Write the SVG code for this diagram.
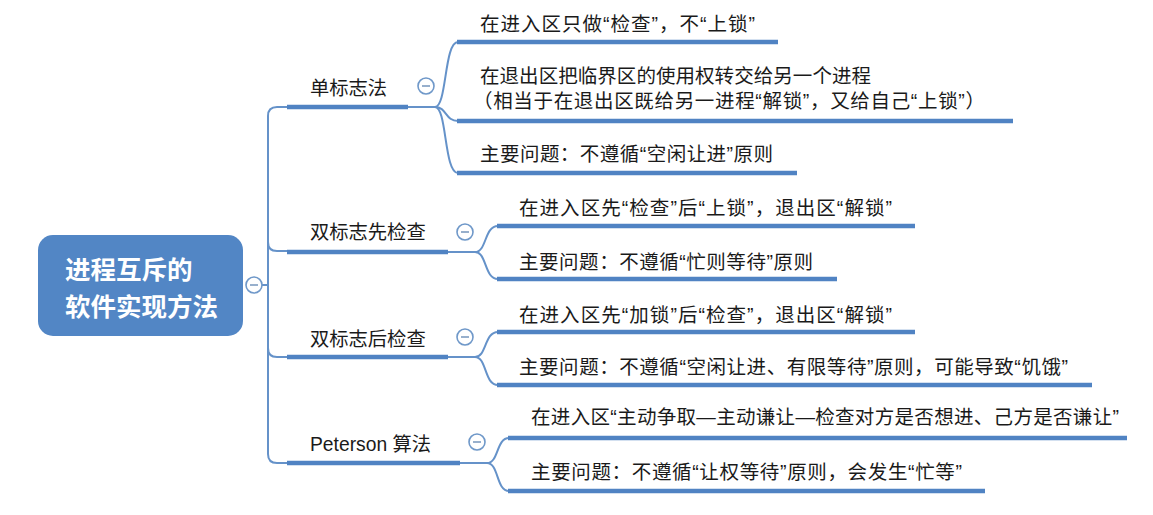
<svg xmlns="http://www.w3.org/2000/svg" width="1153" height="515" viewBox="0 0 1153 515">
<style>
.bg{fill:#ffffff}
.root{fill:#5286c5}
.rt{font-family:"Liberation Sans","Noto Sans CJK SC",sans-serif;font-size:25.5px;font-weight:bold;fill:#ffffff}
.bt{font-family:"Liberation Sans","Noto Sans CJK SC",sans-serif;font-size:19.3px;fill:#1a1a1a}
.ct{font-family:"Liberation Sans","Noto Sans CJK SC",sans-serif;font-size:19.5px;fill:#1a1a1a}
.ul{stroke:#5083c3;stroke-width:4.5;fill:none}
.ln{stroke:#6592c9;stroke-width:2;fill:none}
.tog circle{fill:#ffffff;stroke:#6f98c9;stroke-width:1.6}
.tog line{stroke:#7e9cc0;stroke-width:1.6}
</style>
<rect class="bg" x="0" y="0" width="1153" height="515"/>
<g id="connectors">
<path class="ln" d="M287,107 H277 Q268,107 268,116 V454 Q268,463 277,463 H287"/>
<path class="ln" d="M268,242 Q268,251 277,251 H287"/>
<path class="ln" d="M268,348 Q268,357 277,357 H287"/>
<path class="ln" d="M262,285 H268"/>
<path class="ln" d="M408,107 H435"/>
<path class="ln" d="M435,107 C447,107 444,42 458,42"/>
<path class="ln" d="M435,107 C447,107 445,121 458,121"/>
<path class="ln" d="M435,107 C447,107 444,173 458,173"/>
<path class="ln" d="M448,252 H475"/>
<path class="ln" d="M475,252 C487,252 484,226 498,226"/>
<path class="ln" d="M475,252 C487,252 484,279 498,279"/>
<path class="ln" d="M448,357 H475"/>
<path class="ln" d="M475,357 C487,357 484,332 498,332"/>
<path class="ln" d="M475,357 C487,357 484,385 498,385"/>
<path class="ln" d="M460,463 H487"/>
<path class="ln" d="M487,463 C499,463 496,438 509,438"/>
<path class="ln" d="M487,463 C499,463 496,491 509,491"/>
</g>
<g id="root">
<rect class="root" x="38" y="235" width="205" height="101" rx="15"/>
<text class="rt" x="65" y="279">进程互斥的</text>
<text class="rt" x="65" y="316">软件实现方法</text>
<g class="tog"><circle cx="254" cy="285" r="8"/><line x1="250" y1="285" x2="258" y2="285"/></g>
</g>
<g id="b1">
<line class="ul" x1="287" y1="107" x2="408" y2="107"/>
<text class="bt" x="310" y="95">单标志法</text>
<g class="tog"><circle cx="426" cy="86" r="8"/><line x1="422" y1="86" x2="430" y2="86"/></g>
</g>
<g id="b1c1">
<line class="ul" x1="457" y1="42" x2="778" y2="42"/>
<text class="ct" x="480" y="31" textLength="275" lengthAdjust="spacing">在进入区只做“检查”，不“上锁”</text>
</g>
<g id="b1c2">
<line class="ul" x1="457" y1="121" x2="1013" y2="121"/>
<text class="ct" x="480" y="83" textLength="391" lengthAdjust="spacing">在退出区把临界区的使用权转交给另一个进程</text>
<text class="ct" x="473" y="108" textLength="512" lengthAdjust="spacing">（相当于在退出区既给另一进程“解锁”，又给自己“上锁”）</text>
</g>
<g id="b1c3">
<line class="ul" x1="457" y1="173" x2="797" y2="173"/>
<text class="ct" x="480" y="161" textLength="293" lengthAdjust="spacing">主要问题：不遵循“空闲让进”原则</text>
</g>
<g id="b2">
<line class="ul" x1="287" y1="252" x2="448" y2="252"/>
<text class="bt" x="310" y="239">双标志先检查</text>
<g class="tog"><circle cx="465" cy="232" r="8"/><line x1="461" y1="232" x2="469" y2="232"/></g>
</g>
<g id="b2c1">
<line class="ul" x1="497" y1="226" x2="915" y2="226"/>
<text class="ct" x="519" y="215" textLength="373" lengthAdjust="spacing">在进入区先“检查”后“上锁”，退出区“解锁”</text>
</g>
<g id="b2c2">
<line class="ul" x1="497" y1="279" x2="837" y2="279"/>
<text class="ct" x="519" y="269" textLength="294" lengthAdjust="spacing">主要问题：不遵循“忙则等待”原则</text>
</g>
<g id="b3">
<line class="ul" x1="287" y1="357" x2="448" y2="357"/>
<text class="bt" x="310" y="346">双标志后检查</text>
<g class="tog"><circle cx="465" cy="337" r="8"/><line x1="461" y1="337" x2="469" y2="337"/></g>
</g>
<g id="b3c1">
<line class="ul" x1="497" y1="332" x2="915" y2="332"/>
<text class="ct" x="519" y="322" textLength="373" lengthAdjust="spacing">在进入区先“加锁”后“检查”，退出区“解锁”</text>
</g>
<g id="b3c2">
<line class="ul" x1="497" y1="385" x2="1092" y2="385"/>
<text class="ct" x="519" y="374" textLength="549" lengthAdjust="spacing">主要问题：不遵循“空闲让进、有限等待”原则，可能导致“饥饿”</text>
</g>
<g id="b4">
<line class="ul" x1="287" y1="463" x2="460" y2="463"/>
<text class="bt" x="310" y="451">Peterson 算法</text>
<g class="tog"><circle cx="477" cy="442" r="8"/><line x1="473" y1="442" x2="481" y2="442"/></g>
</g>
<g id="b4c1">
<line class="ul" x1="508" y1="438" x2="1127" y2="438"/>
<text class="ct" x="531" y="424" textLength="588" lengthAdjust="spacing">在进入区“主动争取—主动谦让—检查对方是否想进、己方是否谦让”</text>
</g>
<g id="b4c2">
<line class="ul" x1="508" y1="491" x2="985" y2="491"/>
<text class="ct" x="531" y="479" textLength="431" lengthAdjust="spacing">主要问题：不遵循“让权等待”原则，会发生“忙等”</text>
</g>
</svg>
